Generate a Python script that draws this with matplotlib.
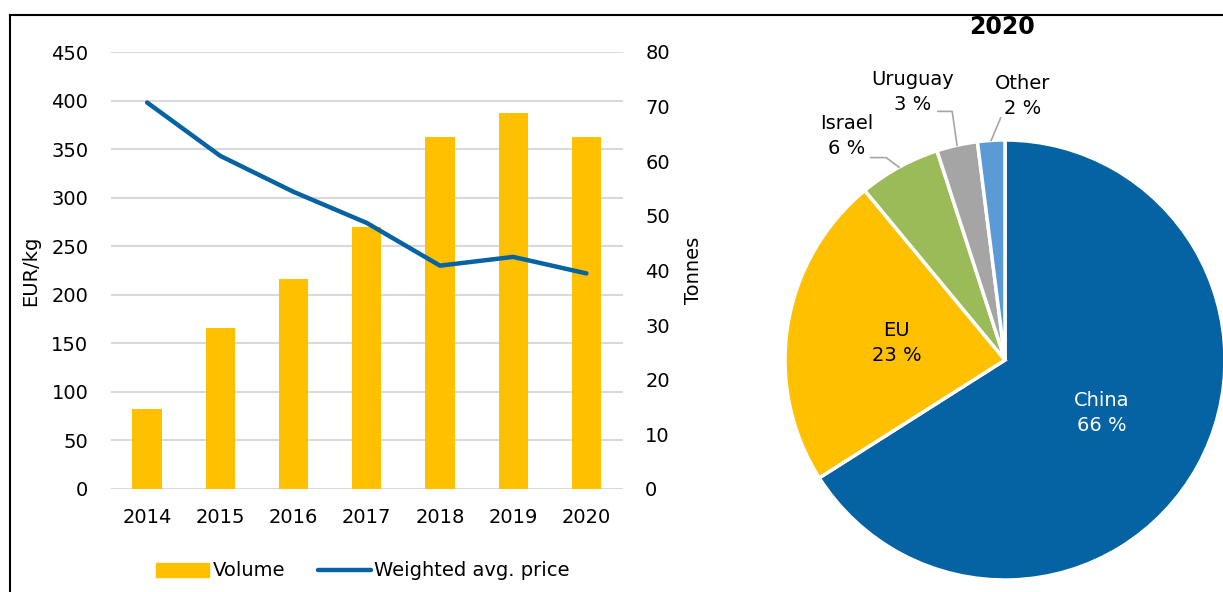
import numpy as np
import matplotlib
matplotlib.use("Agg")
import matplotlib.pyplot as plt
from matplotlib.lines import Line2D
from matplotlib.patches import Patch

# left chart data
years = ["2014", "2015", "2016", "2017", "2018", "2019", "2020"]
volume = [14.7, 29.5, 38.5, 48.0, 64.5, 68.8, 64.5]   # tonnes
price = [398, 343, 306, 274, 230, 239, 222]           # EUR/kg

# pie data (2020)
origins = ["China", "EU", "Israel", "Uruguay", "Other"]
shares = [66, 23, 6, 3, 2]
pie_colors = ["#0563A3", "#FFC000", "#9BBB59", "#A5A5A5", "#5B9BD5"]

bar_color = "#FFC000"
line_color = "#0563A3"
grid_color = "#D9D9D9"

plt.rcParams["font.family"] = ["DejaVu Sans"]
plt.rcParams["font.size"] = 14

W, H = 1223, 592
fig = plt.figure(figsize=(W / 100, H / 100), dpi=100)

# ---- combo chart ----
ax1 = fig.add_axes([110.5 / W, 1 - 489 / H, (623 - 110.5) / W, 437 / H])
ax2 = ax1.twinx()
ax3 = ax1.twinx()

x = np.arange(len(years))
ax2.bar(x, volume, width=0.4, color=bar_color)
ax3.plot(x, price, color=line_color, lw=3.2, solid_capstyle="round", solid_joinstyle="round")

ax1.set_xlim(-0.5, len(years) - 0.5)
ax1.set_ylim(0, 450)
ax1.set_yticks(np.arange(0, 451, 50))
ax1.set_xticks(x)
ax1.set_xticklabels(years)
ax1.grid(axis="y", color=grid_color, lw=1.5)
ax1.set_axisbelow(True)
ax2.set_ylim(0, 80)
ax2.set_yticks(np.arange(0, 81, 10))
ax3.set_ylim(0, 450)
ax3.axis("off")

for a in (ax1, ax2):
    for s in a.spines.values():
        s.set_visible(False)
ax1.tick_params(axis="y", length=0, pad=16)
ax1.tick_params(axis="x", length=0, pad=14)
ax2.tick_params(axis="y", length=0, pad=16)

ax1.set_ylabel("EUR/kg", labelpad=8)
ax2.set_ylabel("Tonnes", labelpad=10)

handles = [Patch(color=bar_color),
           Line2D([], [], color=line_color, lw=3.2, solid_capstyle="round")]
fig.legend(handles, ["Volume", "Weighted avg. price"], loc="center",
           bbox_to_anchor=(363 / W, 1 - 571 / H), ncol=2, frameon=False,
           handlelength=2.7, handletextpad=0.2, columnspacing=1.7, handleheight=0.7)

# ---- pie ----
axp = fig.add_axes([785 / W, 1 - 580 / H, 440 / W, 440 / H])
wedges, _ = axp.pie(shares, colors=pie_colors, startangle=90, counterclock=False,
                    wedgeprops=dict(edgecolor="white", linewidth=2.5))
axp.set_xlim(-1, 1)
axp.set_ylim(-1, 1)
axp.set_aspect("equal")
axp.axis("off")

inside = {"China": "white", "EU": "black"}
label_pos = {"Israel": (-0.72, 1.02), "Uruguay": (-0.42, 1.22), "Other": (0.08, 1.20)}
leader_pts = {"Israel": [(-0.61, 0.92), (-0.54, 0.92)],
              "Uruguay": [(-0.305, 1.13), (-0.24, 1.13)],
              "Other": [(-0.02, 1.10)]}

for w, name, val in zip(wedges, origins, shares):
    mid = np.deg2rad((w.theta1 + w.theta2) / 2)
    txt = f"{name}\n{val} %"
    if name in inside:
        axp.text(0.5 * np.cos(mid), 0.5 * np.sin(mid), txt, ha="center", va="center",
                 color=inside[name], linespacing=1.4)
    else:
        tx, ty = label_pos[name]
        axp.text(tx, ty, txt, ha="center", va="center", linespacing=1.4)
        pts = leader_pts[name] + [(np.cos(mid), np.sin(mid))]
        axp.plot([p[0] for p in pts], [p[1] for p in pts], color="#A6A6A6", lw=1.2, clip_on=False)

fig.text(1002 / W, 1 - 27 / H, "2020", ha="center", va="center", fontsize=17, fontweight="bold")

# outer frame (top and left edges)
fig.add_artist(Line2D([10 / W, 1], [1 - 14.5 / H] * 2, color="black", lw=1.5, transform=fig.transFigure))
fig.add_artist(Line2D([10 / W] * 2, [0, 1 - 14.5 / H], color="black", lw=1.5, transform=fig.transFigure))

fig.savefig("out.png", dpi=100)
